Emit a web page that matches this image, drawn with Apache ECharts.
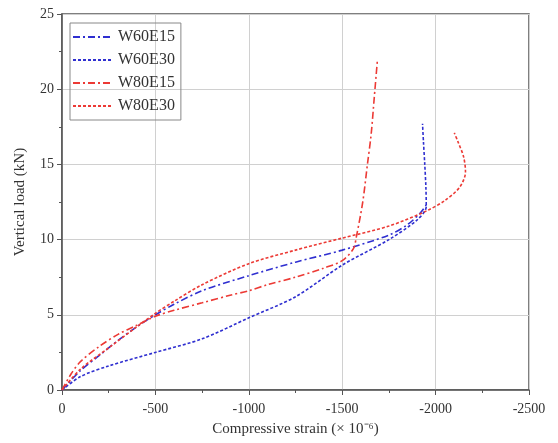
<!DOCTYPE html>
<html>
<head>
<meta charset="utf-8">
<script src="https://cdn.jsdelivr.net/npm/echarts@6/dist/echarts.min.js"></script>
<style>
  html, body {margin:0;padding:0;background:#fff;}
  #chart {width:558px;height:443px;}
</style>
</head>
<body>
<div id="chart"></div>
<script>
// strain (x 10^-6), load (kN) pairs per specimen
var w60e15 = [[0,0],[-100,1.3],[-200,2.3],[-300,3.3],[-400,4.2],[-500,5.0],[-600,5.7],[-750,6.6],[-1000,7.6],[-1250,8.5],[-1500,9.3],[-1750,10.3],[-1850,11.0],[-1920,11.8],[-1950,12.3]];
var w60e30 = [[0,0],[-100,0.9],[-250,1.6],[-500,2.5],[-750,3.4],[-1000,4.8],[-1250,6.2],[-1500,8.3],[-1750,10.0],[-1900,11.3],[-1950,12.2],[-1948,13.5],[-1942,15.0],[-1935,16.5],[-1930,17.7]];
var w80e15 = [[0,0],[-50,1.1],[-100,1.9],[-200,2.9],[-300,3.7],[-400,4.3],[-500,4.9],[-600,5.3],[-750,5.8],[-900,6.3],[-1000,6.6],[-1100,7.0],[-1250,7.5],[-1400,8.1],[-1500,8.6],[-1560,9.4],[-1576,10.2],[-1610,12.5],[-1635,15.0],[-1655,17.0],[-1672,19.5],[-1689,22.0]];
var w80e30 = [[0,0],[-100,1.4],[-250,2.8],[-400,4.2],[-500,5.1],[-600,5.9],[-750,7.0],[-1000,8.4],[-1250,9.3],[-1500,10.1],[-1750,10.9],[-1950,11.9],[-2050,12.6],[-2130,13.5],[-2160,14.5],[-2150,15.5],[-2120,16.5],[-2100,17.1]];
var seriesNames = ['W60E15','W60E30','W80E15','W80E30'];

var blue = '#2f2fd0', red = '#ec3a35';
var dashDot = [7,3,2,3], dotted = [3,2];

var myChart = echarts.init(document.getElementById('chart'));
function mk(name, data, color, dash){
  return {
    name: name, type: 'line', data: data, showSymbol: false, symbol: 'none',
    smooth: 0.3, color: color,
    lineStyle: {color: color, width: 1.6, type: dash}
  };
}
var serif = 'Liberation Serif';
var option = {
  animation: false,
  grid: {left: 62, right: 29, top: 14, bottom: 53, show: true, borderColor: '#555', borderWidth: 1.5},
  legend: {
    orient: 'vertical', left: 70, top: 23, data: seriesNames,
    itemWidth: 40, itemHeight: 14, itemGap: 7,
    padding: [6, 6, 6, 2],
    borderColor: '#888', borderWidth: 1,
    itemStyle: {opacity: 0},
    textStyle: {fontFamily: serif, fontSize: 16, color: '#333'}
  },
  xAxis: {
    type: 'value', inverse: true, min: -2500, max: 0, interval: 500,
    name: 'Compressive strain (× 10⁻⁶)', nameLocation: 'middle', nameGap: 32,
    nameTextStyle: {fontFamily: serif, fontSize: 15, color: '#333'},
    axisLine: {show: true, lineStyle: {color: '#555', width: 1.5}},
    axisTick: {show: true, length: 5, lineStyle: {color: '#555'}},
    minorTick: {show: true, splitNumber: 2, length: 3, lineStyle: {color: '#555'}},
    splitLine: {show: true, lineStyle: {color: '#d0d0d0', width: 1}},
    axisLabel: {fontFamily: serif, fontSize: 14, color: '#333', margin: 12, formatter: function(v){ return String(v); }}
  },
  yAxis: {
    type: 'value', min: 0, max: 25, interval: 5,
    name: 'Vertical load (kN)', nameLocation: 'middle', nameGap: 34,
    nameTextStyle: {fontFamily: serif, fontSize: 15, color: '#333'},
    axisLine: {show: true, lineStyle: {color: '#555', width: 1.5}},
    axisTick: {show: true, length: 5, lineStyle: {color: '#555'}},
    minorTick: {show: true, splitNumber: 2, length: 3, lineStyle: {color: '#555'}},
    splitLine: {show: true, lineStyle: {color: '#d0d0d0', width: 1}},
    axisLabel: {fontFamily: serif, fontSize: 14, color: '#333', margin: 8}
  },
  series: [
    mk(seriesNames[0], w60e15, blue, dashDot),
    mk(seriesNames[1], w60e30, blue, dotted),
    mk(seriesNames[2], w80e15, red, dashDot),
    mk(seriesNames[3], w80e30, red, dotted)
  ]
};
myChart.setOption(option);
</script>
</body>
</html>
